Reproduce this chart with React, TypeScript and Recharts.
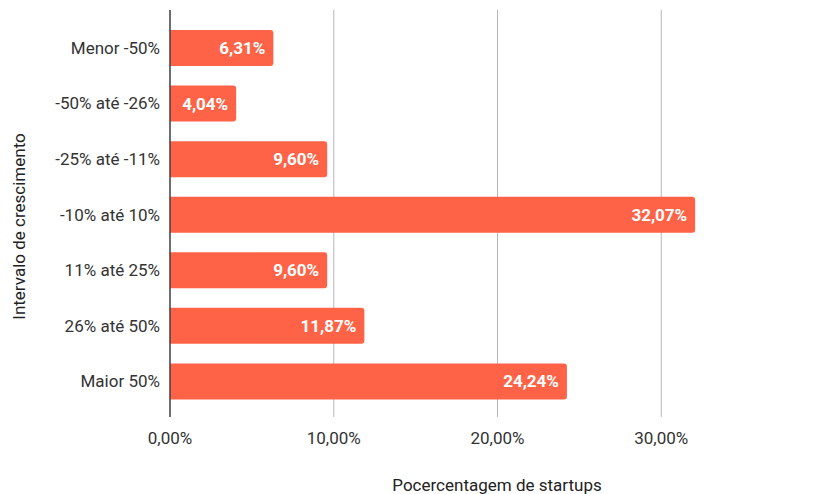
import React from 'react';
import { BarChart, Bar, XAxis, YAxis, CartesianGrid, LabelList, Label } from 'recharts';

const categories = ['Menor -50%', '-50% até -26%', '-25% até -11%', '-10% até 10%', '11% até 25%', '26% até 50%', 'Maior 50%'];
const values = [6.31, 4.04, 9.6, 32.07, 9.6, 11.87, 24.24];
const xTicks = [0, 10, 20, 30];

const data = categories.map((c, i) => ({ name: c, value: values[i] }));

const fmt = (v: number) => v.toFixed(2).replace('.', ',') + '%';
const FONT = 'Roboto, "Noto Sans", sans-serif';

export default function App() {
  return (
    <div style={{ width: 811, height: 486, overflow: 'hidden' }}>
      <BarChart
        width={830}
        height={486}
        data={data}
        layout="vertical"
        margin={{ top: 2, right: 13, bottom: 0, left: 0 }}
        barSize={36}
      >
        <CartesianGrid horizontal={false} stroke="#b7b7b7" strokeWidth={1} />
        <XAxis
          type="number"
          dataKey="value"
          domain={[0, 40]}
          ticks={xTicks}
          tickFormatter={fmt}
          axisLine={false}
          tickLine={false}
          tickMargin={9}
          height={77}
          tick={{ fill: '#333', fontSize: 17, fontFamily: FONT }}
        >
          <Label
            content={() => (
              <text x={489} y={483} textAnchor="middle" fill="#222" fontSize={17} fontFamily={FONT}>
                Pocercentagem de startups
              </text>
            )}
          />
        </XAxis>
        <YAxis
          type="category"
          dataKey="name"
          width={162}
          axisLine={{ stroke: '#333', strokeWidth: 1.3 }}
          tickLine={false}
          tickMargin={4}
          padding={{ top: 10, bottom: 8 }}
          tick={{ fill: '#333', fontSize: 17, fontFamily: FONT }}
        >
          <Label
            content={(props: any) => {
              const vb = props.viewBox || { y: 0, height: 0 };
              const cy = vb.y + vb.height / 2 + 13;
              return (
                <text
                  x={11}
                  y={cy}
                  textAnchor="middle"
                  dominantBaseline="central"
                  transform={`rotate(-90, 11, ${cy})`}
                  fill="#222"
                  fontSize={17}
                  fontFamily={FONT}
                >
                  Intervalo de crescimento
                </text>
              );
            }}
          />
        </YAxis>
        <Bar dataKey="value" fill="#ff6347" radius={[0, 3, 3, 0]} isAnimationActive={false}>
          <LabelList
            dataKey="value"
            position="insideRight"
            offset={8}
            formatter={(v: any) => fmt(Number(v))}
            fill="#ffffff"
            fontSize={17}
            fontWeight="bold"
            fontFamily={FONT}
          />
        </Bar>
      </BarChart>
    </div>
  );
}
